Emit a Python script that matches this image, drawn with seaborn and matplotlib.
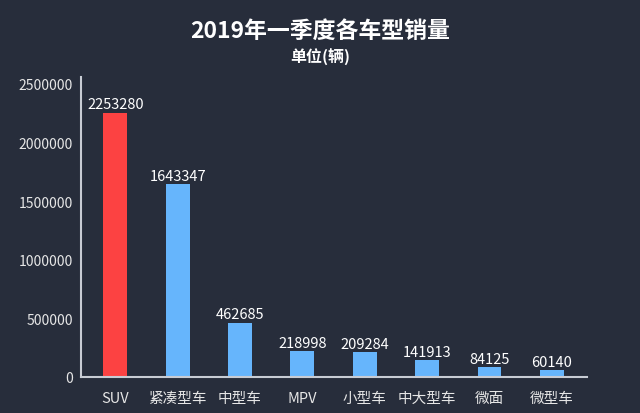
import matplotlib
matplotlib.use("Agg")
import matplotlib.pyplot as plt
import pandas as pd
import seaborn as sns


CATEGORIES = ["SUV", "紧凑型车", "中型车", "MPV", "小型车", "中大型车", "微面", "微型车"]
SALES = [2253280, 1643347, 462685, 218998, 209284, 141913, 84125, 60140]
Y_TICKS = [0, 500000, 1000000, 1500000, 2000000, 2500000]

BG = "#272d3b"
RED = "#fc4242"
BLUE = "#66b5fc"
TEXT = "#ffffff"
AXIS = "#c8ccd4"


def main() -> None:
    df = pd.DataFrame({"category": CATEGORIES, "sales": SALES})
    colors = [RED] + [BLUE] * (len(CATEGORIES) - 1)

    sns.set_theme(style="dark")
    plt.rcParams["font.family"] = ["Noto Sans CJK SC", "DejaVu Sans"]

    fig = plt.figure(figsize=(6.4, 4.14), dpi=100, facecolor=BG)
    ax = fig.add_axes([0.1266, 0.087, 0.79, 0.725])
    ax.set_facecolor(BG)

    sns.barplot(
        data=df,
        x="category",
        y="sales",
        hue="category",
        palette=colors,
        saturation=1,
        width=0.38,
        linewidth=0,
        legend=False,
        ax=ax,
    )

    for container in ax.containers:
        ax.bar_label(container, fmt="%d", padding=1, color=TEXT, fontsize=10.5)

    ax.set_xlim(-0.55, 7.56)
    ax.set_ylim(0, 2560000)
    ax.set_yticks(Y_TICKS)
    ax.set_yticklabels([str(v) for v in Y_TICKS])
    ax.tick_params(axis="y", colors="#e6e6e6", labelsize=10, length=0, pad=6)
    ax.tick_params(axis="x", colors="#e6e6e6", labelsize=10.5, length=0, pad=10)
    for lbl in ax.get_xticklabels():
        lbl.set_fontweight("medium")
    ax.set_xlabel("")
    ax.set_ylabel("")
    ax.grid(False)

    for side in ["top", "right"]:
        ax.spines[side].set_visible(False)
    for side in ["left", "bottom"]:
        ax.spines[side].set_visible(True)
        ax.spines[side].set_color(AXIS)
        ax.spines[side].set_linewidth(1.5)

    fig.text(0.5, 0.925, "2019年一季度各车型销量", ha="center", va="center",
             color=TEXT, fontsize=16.5, fontweight="bold")
    fig.text(0.5, 0.86, "单位(辆)", ha="center", va="center",
             color=TEXT, fontsize=11.5, fontweight="bold")

    fig.savefig("out.png", dpi=100, facecolor=BG)
    plt.close(fig)


if __name__ == "__main__":
    main()
